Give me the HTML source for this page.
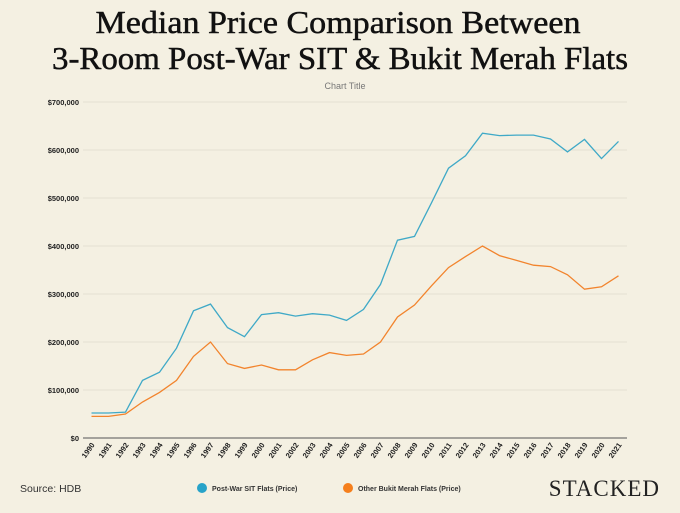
<!DOCTYPE html>
<html><head><meta charset="utf-8"><style>
body{margin:0;background:#f4f0e2;}
svg{display:block}
</style></head><body>
<svg width="680" height="513" viewBox="0 0 680 513" xmlns="http://www.w3.org/2000/svg">
<rect width="680" height="513" fill="#f4f0e2"/>
<g font-family="Liberation Serif, serif" font-size="32" fill="#111" stroke="#111" stroke-width="0.5" text-anchor="middle">
<text x="338" y="33" textLength="485" lengthAdjust="spacingAndGlyphs">Median Price Comparison Between</text>
<text x="340" y="69" textLength="576" lengthAdjust="spacingAndGlyphs">3-Room Post-War SIT &amp; Bukit Merah Flats</text>
</g>
<text x="345" y="89" font-family="Liberation Sans, sans-serif" font-size="9" fill="#777" text-anchor="middle">Chart Title</text>
<g stroke="#e4e0d2" stroke-width="1">
<line x1="83" x2="627" y1="102" y2="102"/><line x1="83" x2="627" y1="150" y2="150"/>
<line x1="83" x2="627" y1="198" y2="198"/><line x1="83" x2="627" y1="246" y2="246"/>
<line x1="83" x2="627" y1="294" y2="294"/><line x1="83" x2="627" y1="342" y2="342"/>
<line x1="83" x2="627" y1="390" y2="390"/>
</g>
<line x1="83" x2="627" y1="438" y2="438" stroke="#555" stroke-width="1"/>
<g font-family="Liberation Sans, sans-serif" font-size="7.5" font-weight="bold" fill="#222" text-anchor="end">
<text x="79" y="105">$700,000</text><text x="79" y="153">$600,000</text>
<text x="79" y="201">$500,000</text><text x="79" y="249">$400,000</text>
<text x="79" y="297">$300,000</text><text x="79" y="345">$200,000</text>
<text x="79" y="393">$100,000</text><text x="79" y="441">$0</text>
</g>
<g font-family="Liberation Sans, sans-serif" font-size="7.5" font-weight="bold" fill="#222" text-anchor="end">
<text transform="translate(95,445) rotate(-55)">1990</text>
<text transform="translate(112,445) rotate(-55)">1991</text>
<text transform="translate(129,445) rotate(-55)">1992</text>
<text transform="translate(146,445) rotate(-55)">1993</text>
<text transform="translate(163,445) rotate(-55)">1994</text>
<text transform="translate(180,445) rotate(-55)">1995</text>
<text transform="translate(197,445) rotate(-55)">1996</text>
<text transform="translate(214,445) rotate(-55)">1997</text>
<text transform="translate(231,445) rotate(-55)">1998</text>
<text transform="translate(248,445) rotate(-55)">1999</text>
<text transform="translate(265,445) rotate(-55)">2000</text>
<text transform="translate(282,445) rotate(-55)">2001</text>
<text transform="translate(299,445) rotate(-55)">2002</text>
<text transform="translate(316,445) rotate(-55)">2003</text>
<text transform="translate(333,445) rotate(-55)">2004</text>
<text transform="translate(350,445) rotate(-55)">2005</text>
<text transform="translate(367,445) rotate(-55)">2006</text>
<text transform="translate(384,445) rotate(-55)">2007</text>
<text transform="translate(401,445) rotate(-55)">2008</text>
<text transform="translate(418,445) rotate(-55)">2009</text>
<text transform="translate(435,445) rotate(-55)">2010</text>
<text transform="translate(452,445) rotate(-55)">2011</text>
<text transform="translate(469,445) rotate(-55)">2012</text>
<text transform="translate(486,445) rotate(-55)">2013</text>
<text transform="translate(503,445) rotate(-55)">2014</text>
<text transform="translate(520,445) rotate(-55)">2015</text>
<text transform="translate(537,445) rotate(-55)">2016</text>
<text transform="translate(554,445) rotate(-55)">2017</text>
<text transform="translate(571,445) rotate(-55)">2018</text>
<text transform="translate(588,445) rotate(-55)">2019</text>
<text transform="translate(605,445) rotate(-55)">2020</text>
<text transform="translate(622,445) rotate(-55)">2021</text>
</g>
<polyline fill="none" stroke="#3fa9c7" stroke-width="1.3" points="91.5,413.0 108.5,413.0 125.5,412.1 142.5,380.4 159.5,372.2 176.5,348.2 193.5,310.8 210.5,304.1 227.5,327.6 244.5,336.7 261.5,314.6 278.5,312.7 295.5,316.1 312.5,313.7 329.5,315.1 346.5,320.4 363.5,309.4 380.5,284.4 397.5,240.2 414.5,236.4 431.5,202.8 448.5,168.2 465.5,155.8 482.5,133.2 499.5,135.6 516.5,135.1 533.5,135.1 550.5,139.0 567.5,151.9 584.5,139.4 601.5,158.6 618.5,141.4"/>
<polyline fill="none" stroke="#f2842d" stroke-width="1.3" points="91.5,416.4 108.5,416.4 125.5,414.0 142.5,402.0 159.5,392.4 176.5,380.4 193.5,356.4 210.5,342.0 227.5,363.6 244.5,368.4 261.5,365.0 278.5,369.8 295.5,369.8 312.5,359.8 329.5,352.6 346.5,355.4 363.5,354.0 380.5,342.0 397.5,317.0 414.5,305.0 431.5,285.8 448.5,267.6 465.5,256.6 482.5,246.0 499.5,255.6 516.5,260.4 533.5,265.2 550.5,266.6 567.5,274.8 584.5,289.2 601.5,286.8 618.5,275.8"/>
<text x="20" y="492" font-family="Liberation Sans, sans-serif" font-size="10.5" fill="#333">Source: HDB</text>
<circle cx="202" cy="488" r="5" fill="#27a3c9"/>
<text x="212" y="491" font-family="Liberation Sans, sans-serif" font-size="7" font-weight="bold" fill="#333">Post-War SIT Flats (Price)</text>
<circle cx="348" cy="488" r="5" fill="#f57f1c"/>
<text x="358" y="491" font-family="Liberation Sans, sans-serif" font-size="7" font-weight="bold" fill="#333">Other Bukit Merah Flats (Price)</text>
<text x="660" y="496" font-family="Liberation Serif, serif" font-size="23" fill="#222" text-anchor="end" letter-spacing="1">STACKED</text>
</svg>
</body></html>
